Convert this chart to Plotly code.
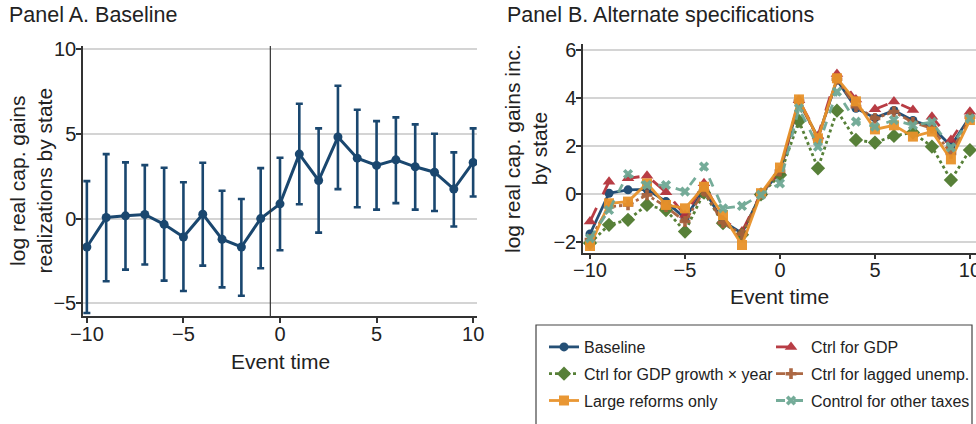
import plotly.graph_objects as go

W, H = 976, 424

# ---------------- data ----------------
event_time = list(range(-10, 11))

# Panel A: baseline estimates with 95% CI
a_est = [-1.68, 0.06, 0.16, 0.24, -0.34, -1.09, 0.26, -1.22, -1.68, 0.0,
         0.87, 3.81, 2.25, 4.82, 3.57, 3.14, 3.47, 3.06, 2.74, 1.74, 3.32]
a_hi = [2.21, 3.81, 3.32, 3.16, 3.00, 2.15, 3.30, 1.64, 1.16, 2.98,
        3.59, 6.79, 5.33, 7.85, 6.43, 5.76, 5.98, 5.57, 5.01, 3.91, 5.33]
a_lo = [-5.58, -3.71, -3.02, -2.72, -3.67, -4.28, -2.78, -4.07, -4.56, -2.94,
        -1.87, 0.85, -0.83, 1.74, 0.67, 0.53, 0.91, 0.53, 0.45, -0.47, 1.30]

# Panel B: alternate specifications
b_baseline = [-1.67, 0.03, 0.17, 0.19, -0.32, -1.01, 0.19, -1.15, -1.64, 0.00,
              0.90, 3.85, 2.36, 4.75, 3.57, 3.17, 3.48, 3.06, 2.80, 2.00, 3.22]
b_gdp = [-1.15, 0.51, 0.65, 0.76, 0.07, -0.88, 0.44, -1.10, -1.57, 0.02,
         0.92, 3.90, 2.42, 5.00, 3.94, 3.53, 3.85, 3.50, 3.22, 2.25, 3.43]
b_gdp_growth = [-2.05, -1.29, -1.08, -0.46, -0.67, -1.57, 0.06, -1.22, -1.70, -0.02,
                0.79, 3.04, 1.07, 3.47, 2.25, 2.14, 2.42, 2.56, 1.97, 0.58, 1.83]
b_lag_unemp = [-1.90, -0.53, -0.46, -0.04, -0.53, -1.15, 0.12, -1.20, -1.68, 0.00,
               0.95, 3.87, 2.30, 4.78, 3.64, 3.15, 3.43, 2.98, 2.74, 1.69, 3.20]
b_large = [-2.17, -0.39, -0.32, 0.44, -0.46, -0.60, 0.30, -0.88, -2.13, 0.03,
           1.10, 3.94, 2.32, 4.82, 3.86, 2.69, 2.86, 2.39, 2.60, 1.44, 3.08]
b_other_tax = [-1.85, -0.67, 0.83, 0.37, 0.37, 0.10, 1.14, -0.60, -0.50, -0.04,
               0.44, 3.57, 1.97, 4.26, 3.01, 2.80, 3.08, 2.86, 3.00, 1.94, 3.15]

x_ticks = [-10, -5, 0, 5, 10]
a_yticks = [-5, 0, 5, 10]
b_yticks = [-2, 0, 2, 4, 6]

# ---------------- style ----------------
FONT = "Liberation Sans, Arial, sans-serif"
TXT = "#222222"
NAVY = "#1a476f"
RED = "#b5333c"
GREEN = "#4f7a2e"
BROWN = "#a8603a"
ORANGE = "#e8922a"
TEAL = "#6ea894"
GRID = "#d4d4d4"
AXIS = "#333333"

def px_x(p):
    return p / W

def px_y(p):
    return 1 - p / H

fig = go.Figure()

# Panel A
fig.add_trace(go.Scatter(
    x=event_time, y=a_est, mode="lines+markers",
    line=dict(color=NAVY, width=3),
    marker=dict(color=NAVY, size=9, symbol="circle"),
    error_y=dict(type="data", symmetric=False,
                 array=[h - e for h, e in zip(a_hi, a_est)],
                 arrayminus=[e - l for e, l in zip(a_est, a_lo)],
                 color=NAVY, thickness=2.6, width=3.5),
    xaxis="x", yaxis="y", showlegend=False, name="Baseline"))

# Panel B
specs = [
    ("Baseline", b_baseline, NAVY, "solid", "circle", 9, "legend"),
    ("Ctrl for GDP", b_gdp, RED, "longdash", "triangle-up", 11, "legend2"),
    ("Ctrl for GDP growth \u00d7 year", b_gdp_growth, GREEN, "dot", "diamond", 11, "legend"),
    ("Ctrl for lagged unemp.", b_lag_unemp, BROWN, "dashdot", "cross", 9, "legend2"),
    ("Large reforms only", b_large, ORANGE, "solid", "square", 10, "legend"),
    ("Control for other taxes", b_other_tax, TEAL, "dash", "x", 9, "legend2"),
]
for i, (name, vals, col, dash, sym, ms, leg) in enumerate(specs):
    fig.add_trace(go.Scatter(
        x=event_time, y=vals, mode="lines+markers", name=name,
        line=dict(color=col, width=2.8, dash=dash),
        marker=dict(color=col, size=ms, symbol=sym),
        xaxis="x2", yaxis="y2", legend=leg, legendgroup=f"g{i}",
        opacity=0.95))

axis_common = dict(
    showline=True, linecolor=AXIS, linewidth=1.5,
    ticks="outside", ticklen=5, tickwidth=1.5, tickcolor=AXIS,
    tickfont=dict(family=FONT, size=20, color=TXT),
    showgrid=True, gridcolor=GRID, gridwidth=1.5,
    zeroline=False, automargin=False, mirror=False,
    ticklabeloverflow="allow",
)
xaxis_common = {**axis_common, "showgrid": False, "ticklabelstandoff": -6}
yaxis_common = {**axis_common, "ticklabelstandoff": -4}

fig.update_layout(
    width=W, height=H,
    margin=dict(l=0, r=0, t=0, b=0),
    paper_bgcolor="white", plot_bgcolor="white",
    font=dict(family=FONT, size=20, color=TXT),
    xaxis=dict(domain=[px_x(83), px_x(477)], range=[-10.2, 10.2],
               tickvals=x_ticks, anchor="y", **xaxis_common),
    yaxis=dict(domain=[px_y(316), px_y(46)], range=[-5.76, 10.2],
               tickvals=a_yticks, anchor="x", **yaxis_common),
    xaxis2=dict(domain=[px_x(583), 1.0], range=[-10.37, 10.32],
                tickvals=x_ticks, anchor="y2", **xaxis_common),
    yaxis2=dict(domain=[px_y(252.7), px_y(44)], range=[-2.45, 6.25],
                tickvals=b_yticks, anchor="x2", **yaxis_common),
    legend=dict(x=px_x(544), y=px_y(330), xanchor="left", yanchor="top",
                orientation="v", bgcolor="rgba(0,0,0,0)", borderwidth=0,
                font=dict(family=FONT, size=16, color=TXT),
                traceorder="grouped", tracegroupgap=3, itemwidth=30),
    legend2=dict(x=px_x(771), y=px_y(330), xanchor="left", yanchor="top",
                 orientation="v", bgcolor="rgba(0,0,0,0)", borderwidth=0,
                 font=dict(family=FONT, size=16, color=TXT),
                 traceorder="grouped", tracegroupgap=3, itemwidth=30),
    shapes=[
        dict(type="line", xref="x", yref="y domain", x0=-0.5, x1=-0.5, y0=0, y1=1,
             line=dict(color=AXIS, width=1.2)),
        dict(type="rect", xref="paper", yref="paper",
             x0=px_x(536), x1=px_x(972), y0=-0.1, y1=px_y(325),
             line=dict(color="#444444", width=1.2), fillcolor="rgba(0,0,0,0)"),
    ],
    annotations=[
        dict(text="Panel A. Baseline", x=px_x(7), y=px_y(15), xref="paper", yref="paper",
             xanchor="left", yanchor="middle", showarrow=False,
             font=dict(family=FONT, size=21.5, color=TXT)),
        dict(text="Panel B. Alternate specifications", x=px_x(505), y=px_y(15),
             xref="paper", yref="paper", xanchor="left", yanchor="middle",
             showarrow=False, font=dict(family=FONT, size=21.5, color=TXT)),
        dict(text="Event time", x=px_x(280), y=px_y(361), xref="paper", yref="paper",
             xanchor="center", yanchor="middle", showarrow=False,
             font=dict(family=FONT, size=21, color=TXT)),
        dict(text="Event time", x=px_x(779.5), y=px_y(296), xref="paper", yref="paper",
             xanchor="center", yanchor="middle", showarrow=False,
             font=dict(family=FONT, size=21, color=TXT)),
        dict(text="log real cap. gains<br>realizations by state", x=px_x(30.5), y=px_y(181),
             xref="paper", yref="paper", xanchor="center", yanchor="middle",
             textangle=-90, showarrow=False,
             font=dict(family=FONT, size=21, color=TXT)),
        dict(text="log real cap. gains inc.<br>by state", x=px_x(526), y=px_y(149),
             xref="paper", yref="paper", xanchor="center", yanchor="middle",
             textangle=-90, showarrow=False,
             font=dict(family=FONT, size=21, color=TXT)),
    ],
)

fig.write_html("out.html",
               config={"displayModeBar": False},
               post_script="document.body.style.margin='0px';document.body.style.overflow='hidden';")
